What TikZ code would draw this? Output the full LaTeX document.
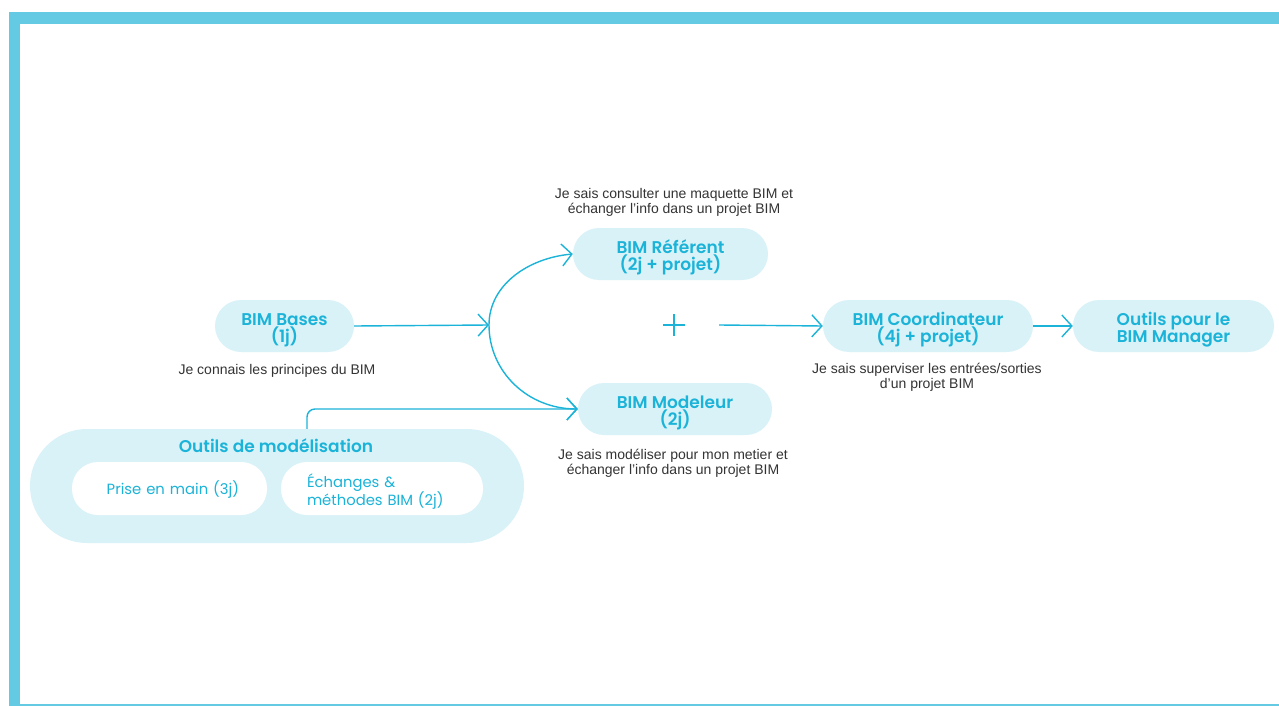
\documentclass[tikz,border=0pt]{standalone}
\usepackage{fontspec}
\setmainfont{Liberation Sans}
\newfontfamily\popfont{Poppins}[BoldFont={Poppins SemiBold}]
\usetikzlibrary{arrows.meta}
\definecolor{bimframe}{HTML}{64CAE4}
\definecolor{bimfill}{HTML}{D9F2F8}
\definecolor{bimcyan}{HTML}{1BB3D8}
\definecolor{bimtext}{HTML}{333333}

\begin{document}
\begin{tikzpicture}[x=1pt, y=-1pt,
    course/.style={rectangle, fill=bimfill, rounded corners=26pt, minimum height=52pt,
      text=bimcyan, align=center, inner sep=0pt, text height=32pt, text depth=0pt,
      font=\popfont\bfseries\fontsize{17}{17}\selectfont},
    heading/.style={text=bimcyan, inner sep=0pt, anchor=base, font=\popfont\bfseries\fontsize{17}{17}\selectfont},
    sub/.style={rectangle, fill=white, rounded corners=26pt, minimum height=53pt,
      text=bimcyan, inner sep=0pt, font=\popfont\fontsize{14.8}{17}\selectfont},
    note/.style={text=bimtext, align=center, inner sep=0pt, anchor=south, text depth=0pt,
      font=\fontsize{14}{15}\selectfont},
    link/.style={draw=bimcyan, line width=1.4pt, -{Straight Barb[length=10pt, width=22pt]}},
  ]
    \useasboundingbox (0,0) rectangle (1279,706);
    % frame
    \fill[bimframe] (9,12.5) rectangle (1279,24);
    \fill[bimframe] (9,12.5) rectangle (20,706);
    \draw[bimframe, line width=1.2pt] (20,705) -- (1279,705);

    % courses
    \node[course, minimum width=139pt] (bases) at (284.5,326) {BIM Bases\\(1j)};
    \node[note] (basesnote) at (277,375) {Je connais les principes du BIM};

    \node[course, minimum width=195pt] (referent) at (670.5,254) {BIM Référent\\(2j + projet)};
    \node[note] (referentnote) at (674,214) {Je sais consulter une maquette BIM et\\échanger l’info dans un projet BIM};

    \node[course, minimum width=194pt] (modeleur) at (675,409) {BIM Modeleur\\(2j)};
    \node[note] (modeleurnote) at (673,475) {Je sais modéliser pour mon metier et\\échanger l’info dans un projet BIM};

    \node[minimum size=22pt, inner sep=0pt] (plus) at (674,325) {};
    \draw[bimcyan, line width=1.4pt] (plus.north) -- (plus.south) (plus.west) -- (plus.east);

    \node[course, minimum width=210pt] (coord) at (928,326) {BIM Coordinateur\\(4j + projet)};
    \node[note] (coordnote) at (927,389) {Je sais superviser les entrées/sorties\\d'un projet BIM};

    \node[course, minimum width=201pt] (manager) at (1173.5,326) {Outils pour le\\BIM Manager};

    % modelling tools group
    \node[course, minimum width=494pt, minimum height=114pt, rounded corners=57pt] (outils) at (277,486) {};
    \node[heading] (outilstitle) at (276,452) {Outils de modélisation};
    \node[sub, minimum width=195pt, text height=11pt, text depth=0pt, text width=139pt, align=right] (prise) at (169.5,488.5) {Prise en main (3j)};
    \node[sub, minimum width=202pt, text height=14pt, text depth=17pt, text width=150pt, align=left] (echanges) at (382,488.5) {Échanges \&\\méthodes BIM (2j)};

    % connectors
    \coordinate (bend) at (489,325);
    \draw[link] (bases.east) -- (bend);
    \draw[link, {Straight Barb[length=10pt, width=22pt]}-{Straight Barb[length=10pt, width=22pt]}]
      (referent.west) .. controls (528,258) and (489,285) .. (bend)
      .. controls (489,372) and (528,409) .. (modeleur.west);
    \draw[link, rounded corners=8pt] ([xshift=30pt]outils.north) |- (modeleur.west);
    \draw[link] ([xshift=34pt]plus.east) -- (coord.west);
    \draw[link] (coord.east) -- (manager.west);
\end{tikzpicture}
\end{document}
